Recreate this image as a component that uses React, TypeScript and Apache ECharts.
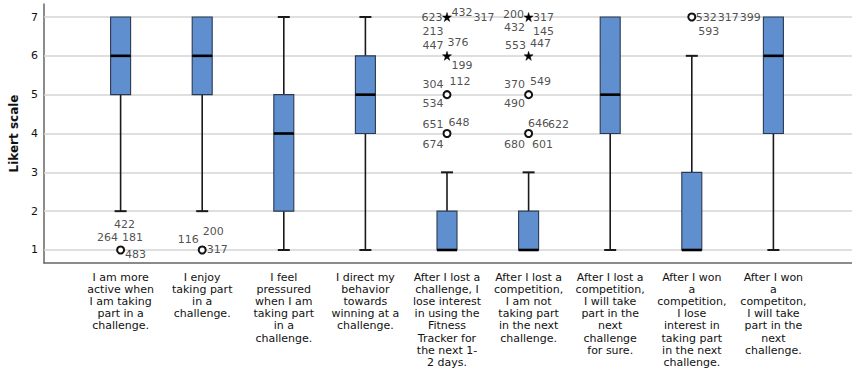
import React, { useEffect, useRef } from "react";
import * as echarts from "echarts";

const categories: string[] = [
  "I am more\nactive when\nI am taking\npart in a\nchallenge.",
  "I enjoy\ntaking part\nin a\nchallenge.",
  "I feel\npressured\nwhen I am\ntaking part\nin a\nchallenge.",
  "I direct my\nbehavior\ntowards\nwinning at a\nchallenge.",
  "After I lost a\nchallenge, I\nlose interest\nin using the\nFitness\nTracker for\nthe next 1-\n2 days.",
  "After I lost a\ncompetition,\nI am not\ntaking part\nin the next\nchallenge.",
  "After I lost a\ncompetition,\nI will take\npart in the\nnext\nchallenge\nfor sure.",
  "After I won\na\ncompetition,\nI lose\ninterest in\ntaking part\nin the next\nchallenge.",
  "After I won\na\ncompetiton,\nI will take\npart in the\nnext\nchallenge.",
];

// [min, Q1, median, Q3, max]
const boxStats: number[][] = [
  [2, 5, 6, 7, 7],
  [2, 5, 6, 7, 7],
  [1, 2, 4, 5, 7],
  [1, 4, 5, 6, 7],
  [1, 1, 1, 2, 3],
  [1, 1, 1, 2, 3],
  [1, 4, 5, 7, 7],
  [1, 1, 1, 3, 6],
  [1, 4, 6, 7, 7],
];

const yTicks: number[] = [1, 2, 3, 4, 5, 6, 7];

// outliers: [category index, value, kind] kind: "o" = outlier, "*" = extreme
const outliers: [number, number, string][] = [
  [0, 1, "o"],
  [1, 1, "o"],
  [4, 7, "*"],
  [4, 6, "*"],
  [4, 5, "o"],
  [4, 4, "o"],
  [5, 7, "*"],
  [5, 6, "*"],
  [5, 5, "o"],
  [5, 4, "o"],
  [7, 7, "o"],
];

// case-number labels: [category index, value, case id]
const caseIds: [number, number, string][] = [
  [0, 1, "422"], [0, 1, "264"], [0, 1, "181"], [0, 1, "483"],
  [1, 1, "200"], [1, 1, "116"], [1, 1, "317"],
  [4, 7, "623"], [4, 7, "432"], [4, 7, "317"], [4, 7, "213"],
  [4, 6, "447"], [4, 6, "376"], [4, 6, "199"],
  [4, 5, "304"], [4, 5, "112"], [4, 5, "534"],
  [4, 4, "651"], [4, 4, "648"], [4, 4, "674"],
  [5, 7, "200"], [5, 7, "317"], [5, 7, "432"], [5, 7, "145"],
  [5, 6, "553"], [5, 6, "447"],
  [5, 5, "370"], [5, 5, "549"], [5, 5, "490"],
  [5, 4, "646"], [5, 4, "622"], [5, 4, "680"], [5, 4, "601"],
  [7, 7, "532"], [7, 7, "317"], [7, 7, "399"], [7, 7, "593"],
];

// layout: pixel offsets of each case label relative to its marker (same order as caseIds)
const caseOffsets: [number, number][] = [
  [4, -25], [-13, -12], [12, -12], [15, 5],
  [11, -18], [-14, -10], [15, 0],
  [-15, 0], [15, -5], [37, 0], [-14, 14],
  [-14, -10], [11, -13], [15, 10],
  [-14, -10], [13, -13], [-14, 9],
  [-14, -9], [12, -11], [-14, 11],
  [-15, -3], [15, 0], [-14, 10], [15, 14],
  [-13, -10], [12, -12],
  [-14, -10], [12, -13], [-14, 9],
  [10, -10], [30, -9], [-14, 11], [14, 11],
  [14.5, 0], [36.5, 0], [58.5, 0], [17, 14],
];

const STAR =
  "path://M50,0 L61,35 L98,35 L68,57 L79,91 L50,70 L21,91 L32,57 L2,35 L39,35 Z";

const FONT = "DejaVu Sans";
const Y_MIN = 0.665;
const Y_MAX = 7.335;

export default function App() {
  const ref = useRef<HTMLDivElement>(null);

  useEffect(() => {
    document.body.style.margin = "0";
    if (!ref.current) return;
    const chart = echarts.init(ref.current, null, { renderer: "svg" });

    const boxData = boxStats.map((s, i) => [i, ...s]);

    const option: any = {
      animation: false,
      backgroundColor: "#ffffff",
      textStyle: { fontFamily: FONT },
      grid: [
        { left: 39, top: 4, right: 0, bottom: 110 },
        { left: 79.8, top: 4, width: 734.4, bottom: 110 },
      ],
      xAxis: [
        {
          type: "value",
          gridIndex: 0,
          min: 0,
          max: 1,
          axisLine: { show: true, lineStyle: { color: "#666", width: 1.5 } },
          axisTick: { show: false },
          axisLabel: { show: false },
          splitLine: { show: false },
        },
        {
          type: "category",
          gridIndex: 1,
          data: categories,
          boundaryGap: true,
          axisLine: { show: false },
          axisTick: { show: false },
          splitLine: { show: false },
          axisLabel: {
            interval: 0,
            margin: 8,
            fontFamily: FONT,
            fontSize: 11,
            lineHeight: 12.2,
            color: "#111",
            align: "center",
          },
        },
      ],
      yAxis: [
        {
          type: "value",
          gridIndex: 0,
          min: Y_MIN,
          max: Y_MAX,
          name: "Likert scale",
          nameLocation: "middle",
          nameGap: 24,
          nameRotate: 90,
          nameTextStyle: {
            fontFamily: FONT,
            fontSize: 12,
            fontWeight: "bold",
            color: "#111",
          },
          axisLine: { show: true, lineStyle: { color: "#666", width: 1.5 } },
          axisTick: { show: false, customValues: yTicks },
          axisLabel: {
            customValues: yTicks,
            margin: 6,
            fontFamily: FONT,
            fontSize: 11,
            color: "#111",
          },
          splitLine: { show: false },
        },
        {
          type: "value",
          gridIndex: 1,
          min: Y_MIN,
          max: Y_MAX,
          show: false,
          splitLine: { show: false },
        },
      ],
      series: [
        {
          type: "line",
          xAxisIndex: 0,
          yAxisIndex: 0,
          data: [[0, 1]],
          showSymbol: false,
          lineStyle: { opacity: 0 },
          silent: true,
          z: 1,
          markLine: {
            silent: true,
            z: 1,
            symbol: ["none", "none"],
            label: { show: false },
            lineStyle: { color: "#d4d4d4", type: "solid", width: 1.5 },
            data: yTicks.map((v) => ({ yAxis: v })),
          },
        },
        {
          type: "custom",
          xAxisIndex: 1,
          yAxisIndex: 1,
          z: 10,
          data: boxData,
          encode: { x: 0, y: [1, 2, 3, 4, 5] },
          renderItem: (params: any, api: any) => {
            const x = api.value(0);
            const mn = api.value(1);
            const q1 = api.value(2);
            const md = api.value(3);
            const q3 = api.value(4);
            const mx = api.value(5);
            const pMin = api.coord([x, mn]);
            const pQ1 = api.coord([x, q1]);
            const pMed = api.coord([x, md]);
            const pQ3 = api.coord([x, q3]);
            const pMax = api.coord([x, mx]);
            const cx = pMin[0];
            const bw = 20;
            const cw = 12;
            const wStyle = { stroke: "#1a1a1a", lineWidth: 1.6 };
            const children: any[] = [];
            if (mn < q1) {
              children.push({
                type: "line",
                shape: { x1: cx, y1: pQ1[1], x2: cx, y2: pMin[1] },
                style: wStyle,
              });
              children.push({
                type: "line",
                shape: { x1: cx - cw / 2, y1: pMin[1], x2: cx + cw / 2, y2: pMin[1] },
                style: { stroke: "#1a1a1a", lineWidth: 2 },
              });
            }
            if (mx > q3) {
              children.push({
                type: "line",
                shape: { x1: cx, y1: pQ3[1], x2: cx, y2: pMax[1] },
                style: wStyle,
              });
              children.push({
                type: "line",
                shape: { x1: cx - cw / 2, y1: pMax[1], x2: cx + cw / 2, y2: pMax[1] },
                style: { stroke: "#1a1a1a", lineWidth: 2 },
              });
            }
            children.push({
              type: "rect",
              shape: { x: cx - bw / 2, y: pQ3[1], width: bw, height: pQ1[1] - pQ3[1] },
              style: { fill: "#5f8fcf", stroke: "#2b3a4f", lineWidth: 1.1 },
            });
            children.push({
              type: "line",
              shape: { x1: cx - bw / 2, y1: pMed[1], x2: cx + bw / 2, y2: pMed[1] },
              style: { stroke: "#000", lineWidth: 2.6 },
            });
            return { type: "group", children };
          },
        },
        {
          type: "scatter",
          xAxisIndex: 1,
          yAxisIndex: 1,
          z: 11,
          data: outliers.map(([c, v, k]) =>
            k === "*"
              ? {
                  value: [c, v],
                  symbol: STAR,
                  symbolSize: 9,
                  itemStyle: { color: "#000", borderColor: "#000", borderWidth: 0.5, opacity: 1 },
                }
              : {
                  value: [c, v],
                  symbol: "circle",
                  symbolSize: 7,
                  itemStyle: { color: "#ffffff", borderColor: "#111", borderWidth: 2, opacity: 1 },
                }
          ),
        },
        {
          type: "scatter",
          xAxisIndex: 1,
          yAxisIndex: 1,
          z: 12,
          symbolSize: 0,
          silent: true,
          data: caseIds.map(([c, v, id], i) => ({
            value: [c, v],
            label: {
              show: true,
              position: "inside",
              formatter: id,
              offset: caseOffsets[i],
              fontFamily: FONT,
              fontSize: 11,
              color: "#222",
            },
          })),
        },
      ],
    };

    chart.setOption(option);
    return () => {
      chart.dispose();
    };
  }, []);

  return <div ref={ref} style={{ width: 852, height: 373 }} />;
}
